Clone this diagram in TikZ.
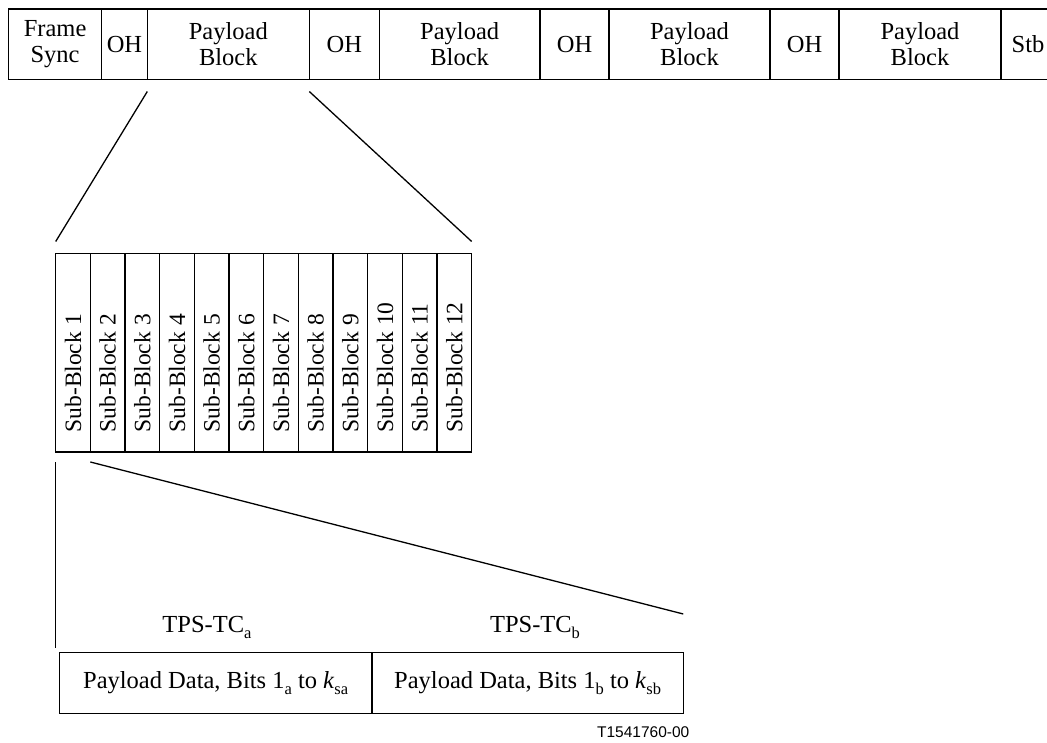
\documentclass[tikz,border=0pt]{standalone}
\usepackage{fontspec}
\setmainfont{Liberation Serif}
\newfontfamily\labelfont{Liberation Sans}
\usetikzlibrary{calc}
\newcommand{\lowsub}[1]{\raisebox{-0.6ex}{\fontsize{16.5}{17}\selectfont #1}}
\begin{document}
\begin{tikzpicture}[x=1pt,y=-1pt,line width=1.3pt,
  txt/.style={font=\fontsize{24.5}{26}\selectfont},
  cell/.style={txt,draw,rectangle,inner sep=0pt,outer sep=0pt,anchor=north west,minimum height=70.5pt,align=center},
  sbbox/.style={draw,rectangle,inner sep=0pt,outer sep=0pt,anchor=north west,minimum width=34.667pt,minimum height=198.5pt},
  sbtext/.style={font=\fontsize{23.5}{25}\selectfont,rotate=90,anchor=west,inner sep=0pt},
  pdbox/.style={txt,draw,rectangle,inner sep=0pt,outer sep=0pt,anchor=north west,minimum height=61pt},
  lbl/.style={txt,anchor=base,inner sep=0pt},
  figid/.style={font=\labelfont\fontsize{15.5}{16}\selectfont,anchor=base east,inner sep=0pt}]
\useasboundingbox (0,0) rectangle (1047,742);
\clip (0,0) rectangle (1047,742);
% top frame row
\node[cell,minimum width=93.2pt]  (fs)  at (8.5,9)   {Frame\\Sync};
\node[cell,minimum width=45.6pt]  (oh1) at (101.7,9) {OH};
\node[cell,minimum width=162pt]   (pb1) at (147.3,9) {Payload\\Block};
\node[cell,minimum width=70pt]    (oh2) at (309.3,9) {OH};
\node[cell,minimum width=160.7pt] (pb2) at (379.3,9) {Payload\\Block};
\node[cell,minimum width=69pt]    (oh3) at (540,9)   {OH};
\node[cell,minimum width=161pt]   (pb3) at (609,9)   {Payload\\Block};
\node[cell,minimum width=69pt]    (oh4) at (770,9)   {OH};
\node[cell,minimum width=162pt]   (pb4) at (839,9)   {Payload\\Block};
\node[cell,minimum width=54pt]    (stb) at (1001,9)  {Stb};
% sub-blocks
\foreach \i in {1,...,12}{
  \node[sbbox] (sb\i) at ({55.7+(\i-1)*34.667},253.5) {};
  \node[sbtext] (sbt\i) at ([yshift=19pt]sb\i.south) {Sub-Block \i};
}
% bottom payload data boxes
\node[pdbox,minimum width=312.7pt] (pda) at (59.3,652.5) {Payload Data, Bits 1\lowsub{a} to \textit{k}\lowsub{sa}};
\node[pdbox,minimum width=311.3pt] (pdb) at (372,652.5) {Payload Data, Bits 1\lowsub{b} to \textit{k}\lowsub{sb}};
\node[lbl] (tpsa) at (207,632) {TPS-TC\lowsub{a}};
\node[lbl] (tpsb) at (535,632) {TPS-TC\lowsub{b}};
\node[figid] (fig) at (690,737) {T1541760-00};
% expansion lines
\draw ($(pb1.south west)+(0,12)$) -- ($(sb1.north west)+(0,-12)$);
\draw ($(pb1.south east)+(0,12)$) -- ($(sb12.north east)+(0,-12)$);
\draw ($(sb1.south west)+(0,10)$) -- ($(sb1.south west |- pda.north)+(0,-5)$);
\draw ($(sb1.south east)+(0,10)$) -- ($(pdb.north east)+(0,-38.5)$);
\end{tikzpicture}
\end{document}
